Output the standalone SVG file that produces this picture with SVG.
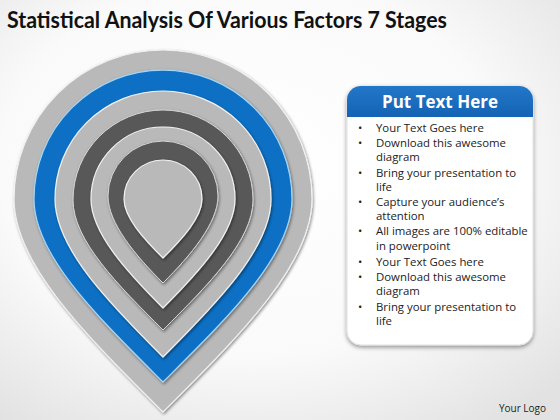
<svg xmlns="http://www.w3.org/2000/svg" width="560" height="420" viewBox="0 0 560 420">
<defs>
<radialGradient id="bg" cx="0.45" cy="0.4" r="0.75">
<stop offset="0" stop-color="#ffffff"/>
<stop offset="0.6" stop-color="#fafafa"/>
<stop offset="1" stop-color="#e2e2e2"/>
</radialGradient>
<linearGradient id="hdr" x1="0" y1="0" x2="0" y2="1">
<stop offset="0" stop-color="#2277c8"/>
<stop offset="1" stop-color="#1463b4"/>
</linearGradient>
<filter id="sh" x="-10%" y="-10%" width="120%" height="120%">
<feDropShadow dx="1" dy="1.5" stdDeviation="1.6" flood-color="#000" flood-opacity="0.45"/>
</filter>
<filter id="psh" x="-10%" y="-10%" width="120%" height="120%">
<feDropShadow dx="0" dy="2" stdDeviation="2" flood-color="#000" flood-opacity="0.4"/>
</filter>
<clipPath id="pc"><rect x="347" y="86" width="186" height="259" rx="14"/></clipPath>
</defs>
<style>
.lt{fill:#b9b9b9;stroke:#f2f2f2;stroke-width:1.2}
.dk{fill:#595959;stroke:#d6d6d6;stroke-width:1}
.bl{fill:#0b6fc4;stroke:#a6d6f6;stroke-width:1.2}
.stage{filter:url(#sh)}
.title{font-family:Lato,"Open Sans",sans-serif;font-weight:bold;font-size:22px;fill:#111}
.body{font-family:"Open Sans",Lato,sans-serif;font-size:11.4px;fill:#222}
.hd{font-family:"Open Sans",Lato,sans-serif;font-weight:bold;font-size:17px;fill:#fff}
.logo{font-family:"Open Sans",Lato,sans-serif;font-size:10px;fill:#222}
</style>
<rect x="0" y="0" width="560" height="420" fill="url(#bg)"/>
<text class="title" x="7" y="28" textLength="440" lengthAdjust="spacingAndGlyphs">Statistical Analysis Of Various Factors 7 Stages</text>

<g id="stage1" class="stage"><path class="lt" d="M14,199 A149,149 0 0 1 312,199 C312,265 237.5,337.5 163,412 C88.5,337.5 14,265 14,199 Z"/></g>
<g id="stage2" class="stage"><path class="bl" d="M34,199 A129,129 0 0 1 292,199 C292,255.7 227.5,317.5 163,382 C98.5,317.5 34,255.7 34,199 Z"/></g>
<g id="stage3" class="stage"><path class="lt" d="M55,199 A108,108 0 0 1 271,199 C271,248 217,303 163,357 C109,303 55,248 55,199 Z"/></g>
<g id="stage4" class="stage"><path class="dk" d="M73,200 A90,90 0 0 1 253,200 C253,240.3 208,285 163,330 C118,285 73,240.3 73,200 Z"/></g>
<g id="stage5" class="stage"><path class="lt" d="M91,199 A72,72 0 0 1 235,199 C235,232.8 199,272 163,308 C127,272 91,232.8 91,199 Z"/></g>
<g id="stage6" class="stage"><path class="dk" d="M108,196 A55,55 0 0 1 218,196 C218,223 190.5,255.5 163,283 C135.5,255.5 108,223 108,196 Z"/></g>
<g id="stage7" class="stage"><path class="lt" d="M124,199 A39,39 0 0 1 202,199 C202,217.3 182.5,238.5 163,258 C143.5,238.5 124,217.3 124,199 Z"/></g>

<g id="panel">
<rect x="347" y="86" width="186" height="259" rx="14" fill="#ffffff" stroke="#e0e0e0" stroke-width="1" filter="url(#psh)"/>
<rect x="347" y="86" width="186" height="31" fill="url(#hdr)" clip-path="url(#pc)"/>
<text class="hd" x="440" y="108" text-anchor="middle">Put Text Here</text>
<g class="body">
<text x="358" y="132">•</text><text x="376" y="132">Your Text Goes here</text>
<text x="358" y="147">•</text><text x="376" y="147">Download this awesome</text>
<text x="376" y="161">diagram</text>
<text x="358" y="177">•</text><text x="376" y="177">Bring your presentation to</text>
<text x="376" y="191">life</text>
<text x="358" y="206">•</text><text x="376" y="206">Capture your audience’s</text>
<text x="376" y="220">attention</text>
<text x="358" y="235">•</text><text x="376" y="235">All images are 100% editable</text>
<text x="376" y="250">in powerpoint</text>
<text x="358" y="266">•</text><text x="376" y="266">Your Text Goes here</text>
<text x="358" y="281">•</text><text x="376" y="281">Download this awesome</text>
<text x="376" y="295">diagram</text>
<text x="358" y="311">•</text><text x="376" y="311">Bring your presentation to</text>
<text x="376" y="325">life</text>
</g>
</g>
<text class="logo" x="546" y="412" text-anchor="end">Your Logo</text>
</svg>
